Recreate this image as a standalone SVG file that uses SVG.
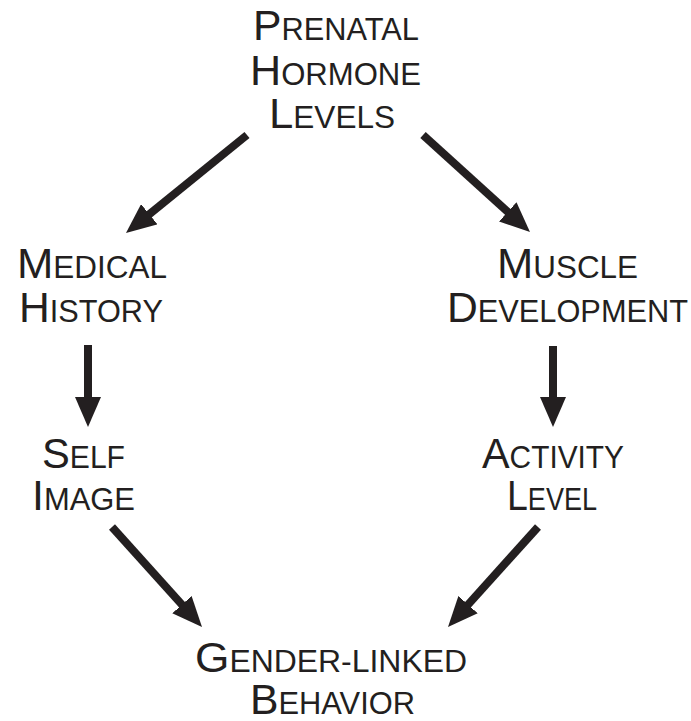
<svg xmlns="http://www.w3.org/2000/svg" width="691" height="721" viewBox="0 0 691 721">
<style>
text{font-family:"Liberation Sans",Arial,sans-serif;font-size:43px;fill:#231f20}
.s{font-size:31px}
.c{stroke:#231f20;stroke-width:8;fill:none;marker-end:url(#ah)}
</style>
<defs>
<marker id="ah" markerUnits="userSpaceOnUse" markerWidth="30" markerHeight="26" viewBox="0 0 30 26" refX="1" refY="13" orient="auto">
<path d="M0,0 L30,13 L0,26 z" fill="#231f20"/>
</marker>
</defs>
<rect width="691" height="721" fill="#fff"/>
<g id="connectors">
<line class="c" x1="247" y1="135" x2="148.5" y2="214.8"/>
<line class="c" x1="423" y1="135" x2="508.5" y2="212.5"/>
<line class="c" x1="88" y1="345" x2="88" y2="398"/>
<line class="c" x1="553" y1="346" x2="553" y2="398"/>
<line class="c" x1="112" y1="527" x2="182.6" y2="605.4"/>
<line class="c" x1="538" y1="527" x2="467.4" y2="605.4"/>
</g>
<g id="prenatal">
<text x="253" y="40" textLength="166" lengthAdjust="spacingAndGlyphs">P<tspan class="s">RENATAL</tspan></text>
<text x="250" y="85" textLength="171" lengthAdjust="spacingAndGlyphs">H<tspan class="s">ORMONE</tspan></text>
<text x="269" y="128" textLength="126" lengthAdjust="spacingAndGlyphs">L<tspan class="s">EVELS</tspan></text>
</g>
<g id="medical">
<text x="17" y="278" textLength="150" lengthAdjust="spacingAndGlyphs">M<tspan class="s">EDICAL</tspan></text>
<text x="19" y="322" textLength="144" lengthAdjust="spacingAndGlyphs">H<tspan class="s">ISTORY</tspan></text>
</g>
<g id="muscle">
<text x="497" y="278" textLength="141" lengthAdjust="spacingAndGlyphs">M<tspan class="s">USCLE</tspan></text>
<text x="447" y="322" textLength="241" lengthAdjust="spacingAndGlyphs">D<tspan class="s">EVELOPMENT</tspan></text>
</g>
<g id="self">
<text x="42" y="468" textLength="83" lengthAdjust="spacingAndGlyphs">S<tspan class="s">ELF</tspan></text>
<text x="32" y="510" textLength="103" lengthAdjust="spacingAndGlyphs">I<tspan class="s">MAGE</tspan></text>
</g>
<g id="activity">
<text x="482" y="468" textLength="142" lengthAdjust="spacingAndGlyphs">A<tspan class="s">CTIVITY</tspan></text>
<text x="507" y="510" textLength="90" lengthAdjust="spacingAndGlyphs">L<tspan class="s">EVEL</tspan></text>
</g>
<g id="gender">
<text x="195" y="672" textLength="272" lengthAdjust="spacingAndGlyphs">G<tspan class="s">ENDER-LINKED</tspan></text>
<text x="250" y="714" textLength="165" lengthAdjust="spacingAndGlyphs">B<tspan class="s">EHAVIOR</tspan></text>
</g>
</svg>
